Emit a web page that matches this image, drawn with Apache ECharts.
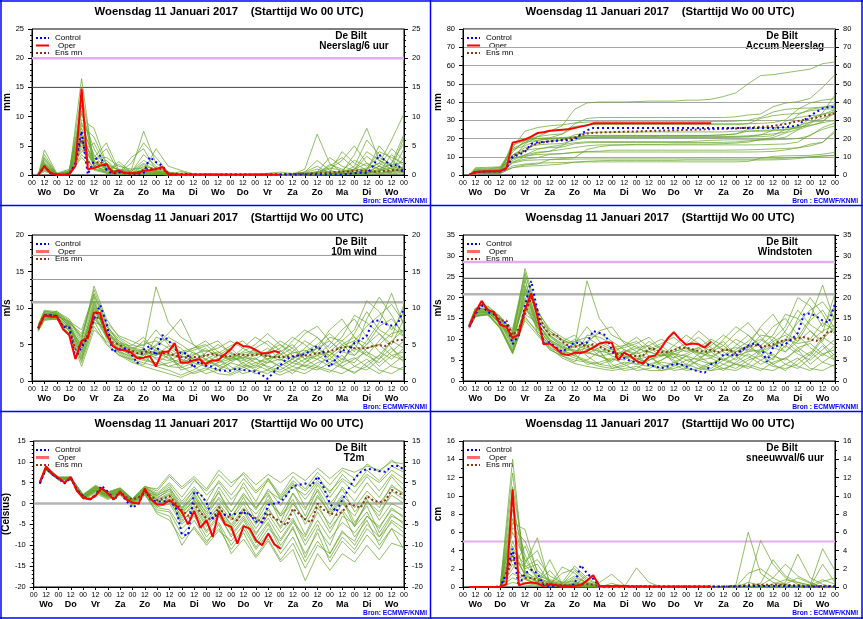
<!DOCTYPE html>
<html><head><meta charset="utf-8">
<script src="https://cdn.jsdelivr.net/npm/echarts@6/dist/echarts.min.js"></script>
<style>html,body{margin:0;padding:0;background:#fff}#c{width:863px;height:619px}</style>
</head><body><div id="c"></div>
<script>
// ---------- time axes ----------
const hours6 = [6,12,18,24,30,36,42,48,54,60,66,72,78,84,90,96,102,108,114,120,126,132,138,144,150,156,162,168,174,180,186,192,198,204,210,216,222,228,234,240,246,252,258,264,270,276,282,288,294,300,306,312,318,324,330,336,342,348,354,360];
const hoursOper = hours6.slice(0, 40);
const hoursM = [6,12,24,36,48,60,72,84,96,108,120,132,144,156,168,180,192,204,216,228,240,252,264,276,288,300,312,324,336,348,360];
const days = ['Wo','Do','Vr','Za','Zo','Ma','Di','Wo','Do','Vr','Za','Zo','Ma','Di','Wo'];

// ---------- Neerslag/6 uur ----------
const precipOper = [0,1.5,0.3,0.1,0,0.1,1.5,14.8,1.0,1.2,1.6,1.9,0.4,0.8,0.3,0.3,0.3,0.7,0.8,1.0,1.4,0.1,
 0.1,0.1,0.1,0.1,0.1,0.1,0.1,0.1,0.1,0.1,0.1,0.1,0.1,0.1,0.1,0.1,0.1,0.1];
const precipControl = [0,1.5,0.3,0.1,0,0.1,2.0,7.5,0.1,2.5,3.3,0.9,0.2,0.5,0.3,0.2,0.2,0.3,3.1,2.2,1.6,0.1,
 0.1,0.1,0.1,0.1,0.1,0.1,0.1,0.1,0.1,0.1,0.1,0.1,0.1,0.1,0.1,0.1,0.1,0.1,0.1,0.1,0.1,0.1,0.1,0.1,0.1,0.1,0.1,0.1,
 0.2,0.3,0.4,0.3,1.5,3.5,2.4,1.5,1.8,0.2];
const precipMean = [0.1,1.5,0.3,0.1,0.1,0.2,1.8,6.5,2.2,2.0,2.3,1.5,0.6,0.6,0.4,0.3,0.4,0.9,1.1,1.1,1.0,0.3,
 0.2,0.2,0.2,0.1,0.1,0.1,0.1,0.1,0.1,0.1,0.1,0.1,0.1,
 0.1,0.1,0.1,0.1,0.1,0.2,0.2,0.2,0.2,0.3,0.3,0.4,0.4,0.5,0.6,
 0.6,0.7,0.8,0.7,0.6,0.6,0.7,0.8,0.9,1.0];
const precipMembers = [
 [0,1.5,0.1,0.2,5.5,2.0,1.0,0.5,0.3,0.8,0.6,0.1,0,0,0.2,0,0,0.1,0,0,0,0.1,0.3,0.5,1.2,0.8,2.5,1.5,3.0,1.8,2.2],
 [0,2.0,0,0.5,8.0,3.5,0.8,0.3,0.2,1.5,1.0,0.2,0,0,0,0,0.1,0,0,0,0,0,0,0.2,0.6,0.4,0.9,3.2,1.5,0.5,4.5],
 [0,1.2,0.1,0.3,12.0,1.5,2.5,0.6,0.4,0.5,0.3,0,0,0.1,0,0,0,0,0,0,0.1,0.2,0.5,1.5,0.3,0.2,0.4,0.8,5.0,2.5,1.0],
 [0,3.0,0.2,0.8,4.0,5.5,1.2,1.0,0.8,7.5,2.0,0.5,0.1,0,0,0,0,0,0,0,0,0.1,1.0,7.0,2.0,0.5,1.0,2.0,1.0,0.3,0.8],
 [0,1.0,0,0.1,16.5,1.0,0.5,0.2,0.1,0.3,0.2,0,0,0,0,0,0,0,0,0,0,0,0,0.1,0.2,0.5,3.5,8.0,2.5,1.0,0.5],
 [0,2.5,0.1,0.4,6.5,2.5,4.5,0.4,0.6,2.5,1.2,0.3,0,0,0,0.1,0,0,0,0,0,0,0.3,0.1,0,0.2,0.5,1.0,2.0,6.0,10.5],
 [0,4.3,0.3,1.0,9.5,8.0,2.0,0.8,0.3,1.0,0.5,0.1,0,0,0,0,0,0,0,0.1,0,0,0.2,0.4,1.5,3.0,1.2,0.5,0.2,0.5,1.5],
 [0,0.8,0,0,3.5,1.2,0.6,2.3,0.5,0.6,4.5,1.5,0.8,0.2,0,0,0,0,0,0,0,0,0,0,0.1,0.2,0.3,1.0,4.0,3.0,2.0],
 [0,1.8,0.1,0.2,7.0,2.0,1.5,0.3,3.0,4.5,0.8,0.2,0,0,0,0,0,0,0,0,0,0.2,0.5,2.5,0.8,0.3,0.1,0.2,0.6,2.0,7.0],
 [0,1.3,0,0.1,5.0,1.8,0.3,0.1,0.1,0.2,0.1,0,0,0,0,0,0,0,0,0,0,0,0,0,0,0.1,0.3,0.5,0.8,1.2,0.6],
 [0,2.2,0.2,0.6,10.5,4.5,1.0,0.6,0.2,0.4,0.3,0,0,0,0,0,0,0,0,0,0,0.1,0.2,0.3,1.0,2.5,5.0,2.0,1.0,0.4,3.0],
 [0,1.6,0.1,0.3,6.0,2.8,3.0,1.5,1.0,1.2,0.5,0.1,0,0,0,0,0,0,0,0.3,0.5,0.2,0.1,0,0,0,0.2,0.6,1.5,4.5,2.5],
 [0,0.6,0,0,4.5,1.0,0.4,0.2,0.1,0.1,0.2,0,0,0,0,0,0,0,0,0,0,0,0,0.2,1.8,1.0,0.3,0.1,0.2,0.6,1.0],
 [0,3.5,0.2,0.5,8.5,6.5,1.8,0.9,0.5,3.5,1.5,0.4,0.1,0,0,0,0,0,0,0,0,0,0,0,0.2,0.4,1.5,6.0,3.5,1.5,0.8],
 [0,1.4,0,0.2,7.5,1.5,0.7,0.3,0.2,0.8,0.4,0.1,0.6,0,0,0,0,0,0,0,0,0,0.1,0.1,0.2,0.3,0.2,0.4,1.0,2.0,5.5],
 [0,2.8,0.1,0.7,11.0,3.0,5.5,0.8,0.6,2.0,0.8,0.2,0,0,0,0,0,0,0,0,0,0,0,0.5,3.0,1.5,0.8,0.4,1.5,0.7,0.3],
 [0,0.9,0,0.1,3.0,0.8,0.3,0.1,0,0.1,0.1,0,0,0,0,0,0,0,0.1,0,0,0,0,0,0,0,0.1,0.3,0.5,0.2,0.4],
 [0,2.0,0.1,0.4,14.0,2.2,1.2,0.4,2.0,5.5,3.0,0.5,0,0,0,0,0,0,0,0,0,0,0.4,1.0,0.5,4.0,2.0,0.8,0.5,3.5,1.5],
 [0,1.1,0,0.2,5.8,1.6,0.8,1.8,0.4,0.6,0.3,0,0,0,0,0,0,0,0,0,0,0,0,0,0.1,0.2,0.8,1.2,2.0,1.0,6.5],
 [0,1.7,0.1,0.3,9.0,2.4,1.0,0.5,0.3,1.8,0.6,0.1,0,0,0,0,0,0,0,0,0,0.1,0.2,0.6,0.4,0.6,1.0,4.0,2.5,1.5,1.2]
];
const precipRefLevels = [15, 20];

// ---------- Accum Neerslag ----------
const accumOper = [0,1.6,1.9,2.0,2.0,2.1,3.6,17.7,18.5,19.5,21.0,23.0,23.4,24.2,24.5,24.8,25.1,25.7,26.5,27.2,28.3,
 28.4,28.4,28.4,28.4,28.4,28.4,28.4,28.4,28.4,28.4,28.4,28.4,28.4,28.4,28.4,28.4,28.4,28.4,28.4];
const accumControl = [0,1.5,1.8,1.9,1.9,2.0,3.5,10.0,11.0,12.8,17.0,17.9,18.1,18.4,18.7,19.0,19.1,19.3,22.4,24.5,25.8,
 25.8,25.8,25.8,25.8,25.8,25.8,25.8,25.8,25.8,25.8,25.8,25.8,25.8,25.8,25.8,25.8,25.8,25.8,25.8,25.8,25.8,25.8,25.8,25.8,25.8,25.8,25.8,25.8,25.8,
 25.9,26.2,26.6,27.2,30.0,32.5,34.5,36.5,37.2,37.2];
const accumMean = [0.1,1.7,1.9,2.0,2.1,2.2,3.6,10.2,12.0,13.5,15.8,17.3,17.9,18.5,18.9,19.3,19.7,20.6,21.7,22.8,
 23.1,23.3,23.4,23.5,23.6,23.7,23.8,23.9,24.0,24.1,24.2,24.3,24.4,24.5,24.6,24.7,24.8,24.9,25.0,25.1,
 25.2,25.3,25.4,25.5,25.7,25.9,26.1,26.3,26.6,26.9,27.4,28.0,28.7,29.5,30.2,30.8,31.5,32.3,33.0,33.8];
const accumMembers = [
 [0,1.5,1.8,2.0,7,10,12,13,14,15,16,16.5,16.5,16.5,16.8,16.8,16.8,17,17,17,17,17.2,17.5,18,19.5,20.5,23,25,29,31,34],
 [0,2.0,2.2,2.8,11,15,16.5,17,17.2,19,20.5,21,21,21,21,21,21.2,21.2,21.2,21.2,21.2,21.2,21.2,21.5,22,22.5,23.5,27,29,29.5,34],
 [0,1.2,1.4,1.8,14,16,19,20,20.5,21,21.5,21.5,21.5,21.6,21.6,21.6,21.6,21.6,21.6,21.6,21.7,22,22.5,24,24.5,24.7,25,26,31,33.5,34.5],
 [0,3.0,3.3,4.0,9,17,21,24,27,36,39.5,40,40,40,40.2,40.5,40.5,40.5,41,41,41.5,43,45,50,54.5,55,56,57,58,61,62],
 [0,1.0,1.0,1.2,18,19.5,20,20.2,20.3,20.6,20.8,20.8,20.8,20.8,20.8,20.8,20.8,20.8,20.8,20.8,20.8,20.8,20.8,20.9,21,21.5,25,33,36,37,37.5],
 [0,2.5,2.7,3.1,10,13,18,18.5,19,22,23,23.5,23.5,23.5,23.5,23.6,23.6,23.6,23.6,23.6,23.6,23.6,24,24,24,24.2,24.7,25.7,28,34,44],
 [0,4.0,4.2,4.5,15,24,26,27,27.5,28.5,29,29.2,29.2,29.2,29.2,29.2,29.2,29.2,29.2,29.3,29.3,29.3,29.5,30,31.5,34.5,36,36.5,36.7,37.2,38.5],
 [0,0.8,0.8,0.9,4,5.5,6,8.5,9,9.5,14,15.5,16.3,16.5,16.5,16.5,16.5,16.5,16.5,16.5,16.5,16.5,16.5,16.5,16.6,16.8,17,18,22,25,27],
 [0,1.8,2.0,2.2,9,11,12.5,13,16,20.5,21.5,21.7,21.7,21.7,21.7,21.7,21.7,21.7,21.7,21.7,21.7,22,22.5,25,25.8,26,26,26.2,27,29,36],
 [0,1.3,1.3,1.4,6.5,8,8.3,8.4,8.5,8.7,8.8,8.8,8.8,8.8,8.8,8.8,8.8,8.8,8.8,8.8,8.8,8.8,8.8,8.8,8.8,8.9,9.2,9.7,10,10.5,10.8],
 [0,2.2,2.4,3.0,13.5,18,19,19.6,19.8,20.2,20.5,20.5,20.5,20.5,20.5,20.5,20.5,20.5,20.5,20.5,20.5,20.6,20.8,21,22,24.5,29.5,31.5,32.5,33,36],
 [0,1.6,1.7,2.0,8,11,14,15.5,16.5,17.7,18.2,18.3,18.3,18.3,18.3,18.3,18.3,18.3,18.3,18.6,19,19.2,19.3,19.3,19.3,19.3,19.5,20,21.5,26,28.5],
 [0,0.6,0.6,0.7,5,6,6.5,6.7,6.8,7,7.2,7.2,7.2,7.2,7.2,7.2,7.2,7.2,7.2,7.2,7.2,7.2,7.2,7.4,9.2,10.2,10.5,10.6,10.8,11.4,12.4],
 [0,3.5,3.7,4.2,12.5,19,21,22,22.5,26,27.5,28,28.1,28.1,28.1,28.1,28.1,28.1,28.1,28.1,28.1,28.1,28.1,28.1,28.3,28.7,30.2,36,39.5,41,41.8],
 [0,1.4,1.4,1.6,9,10.5,11.2,11.5,11.7,12.5,12.9,13,13.6,13.6,13.6,13.6,13.6,13.6,13.6,13.6,13.6,13.6,13.7,13.8,14,14.3,14.5,14.9,15.9,17.9,23.4],
 [0,2.8,2.9,3.6,14.6,17.6,23,24,24.6,26.6,27.4,27.6,27.6,27.6,27.6,27.6,27.6,27.6,27.6,27.6,27.6,27.6,27.6,28.1,31,32.5,33.3,33.7,35.2,36,36.3],
 [0,0.9,0.9,1.0,4,4.8,5.1,5.5,6,7,7.5,7.8,8,8,8,8,8,8,8.2,8.2,8.2,8.2,8.2,8.2,8.2,8.3,8.5,9,9.8,10.3,10.7],
 [0,2.0,2.1,2.5,16.5,18.7,20,20.4,22.4,28,31,31.5,31.5,31.5,31.5,31.5,31.5,31.5,31.5,31.5,31.5,31.5,31.9,32.9,33.4,37.4,39.4,40.2,42,48,55],
 [0,1.1,1.1,1.3,7,8.7,9.5,11.3,11.7,12.3,12.6,12.6,12.6,12.6,12.6,12.6,12.6,12.6,12.6,12.6,12.6,12.6,12.6,12.6,12.7,12.9,13.7,14.9,16.9,17.9,24.4],
 [0,1.7,1.8,2.1,11,13.5,14.5,15,15.3,17.1,17.7,17.8,17.8,17.8,17.8,17.8,17.8,17.8,17.8,17.8,17.8,17.9,18.1,18.7,19.1,19.7,20.7,24.7,27.2,28.7,29.9]
];
const accumRefLevels = [];

// ---------- 10m wind ----------
const windOper = [7.2,9.0,8.8,8.8,7.1,6.3,3.0,5.5,5.9,9.4,9.3,6.5,4.8,4.3,4.2,3.9,3.1,3.2,3.4,2.0,
 4.0,4.0,5.2,2.5,2.5,2.8,3.0,2.3,2.8,2.8,3.6,4.3,5.3,4.8,4.7,4.3,3.8,3.8,4.1,3.9];
const windControl = [7.2,9.0,9.0,8.9,7.4,7.3,3.2,4.6,6.0,8.5,10.4,8.0,4.0,4.3,4.4,3.7,2.4,4.3,4.8,3.5,
 6.3,5.6,4.4,3.8,3.8,1.8,2.7,2.1,2.0,1.5,1.4,1.4,1.7,1.5,1.4,1.3,0.9,0.3,1.2,2.1,
 3.0,3.3,3.5,3.7,4.2,4.8,4.0,1.9,3.0,4.3,4.0,5.2,5.6,6.2,8.2,8.3,7.8,7.6,7.8,10.0];
const windMean = [7.3,9.0,9.0,8.9,7.5,7.5,4.3,5.0,6.3,8.5,8.8,6.5,5.3,5.0,4.5,4.2,3.8,4.0,4.0,3.8,
 3.8,3.8,3.5,3.3,3.2,3.3,3.3,3.5,3.7,3.5,3.4,3.4,3.7,3.6,3.5,3.6,3.6,3.4,3.3,3.3,
 3.3,3.4,3.5,3.5,3.6,3.8,3.9,4.1,4.3,4.6,4.7,4.5,4.5,4.5,4.8,4.9,4.8,5.3,5.6,5.6];
const windMembers = [
 [7.2,9.0,9.2,7.5,4.0,9.5,7.0,5.0,4.5,4.0,3.5,4.2,3.0,2.5,3.5,4.0,3.2,2.8,3.5,4.5,3.0,2.5,3.8,4.5,5.5,4.0,3.5,5.0,6.5,4.5,3.0],
 [7.5,9.3,9.0,8.0,6.5,11.5,6.0,4.5,3.5,3.0,6.0,5.5,4.5,3.0,2.0,1.5,2.5,3.5,4.0,3.0,2.0,3.0,4.5,6.0,4.0,2.5,5.5,7.5,9.0,10.5,8.0],
 [7.0,8.7,8.6,7.0,3.0,8.0,7.5,5.5,4.0,5.5,4.5,3.0,2.0,3.5,4.5,3.0,1.5,2.0,3.0,2.5,4.0,5.0,3.0,2.0,3.5,5.0,6.0,4.0,3.0,5.5,7.0],
 [7.3,9.5,9.4,8.3,5.5,13.0,8.5,6.0,5.0,4.5,12.9,8.0,6.0,5.0,4.0,4.5,5.5,4.5,3.5,4.0,5.5,4.5,3.0,3.5,5.0,7.0,8.5,6.0,4.0,3.0,4.5],
 [6.8,8.4,8.5,6.5,2.0,7.0,5.5,4.0,3.0,2.5,2.0,1.5,0.8,1.5,2.5,3.0,2.0,1.0,1.5,2.5,3.0,2.0,1.5,2.5,3.0,2.0,1.0,2.5,3.5,2.0,1.5],
 [7.6,9.6,9.3,7.8,4.5,10.5,6.5,5.0,4.0,3.5,5.0,6.5,8.5,5.0,3.5,2.5,3.0,4.0,5.0,6.5,5.0,3.5,2.5,4.0,6.0,5.5,4.0,8.5,11.5,9.0,6.0],
 [7.1,8.9,8.8,7.2,5.0,9.0,6.2,4.2,3.2,4.5,3.0,2.0,2.5,4.0,3.0,2.0,1.0,1.8,2.5,2.0,1.5,2.5,3.5,3.0,2.0,3.0,4.5,3.5,2.5,4.0,5.5],
 [7.4,9.1,8.9,8.2,7.0,12.0,7.8,5.2,4.8,6.0,4.0,3.5,4.0,3.0,2.5,3.5,4.5,3.0,2.0,3.5,4.5,6.0,5.0,3.5,4.0,5.5,7.0,11.0,9.5,7.0,9.5],
 [6.9,8.6,8.7,6.8,3.5,8.5,6.8,4.8,3.8,3.0,2.5,3.5,2.0,1.0,1.5,2.5,3.5,2.5,1.5,1.0,2.0,3.0,2.0,1.5,2.5,3.5,2.0,1.5,3.0,4.5,2.5],
 [7.3,9.2,9.1,7.6,4.8,10.0,6.6,4.6,4.2,3.8,3.2,2.8,3.5,4.5,5.5,4.0,3.0,3.8,4.2,3.5,2.8,4.0,5.5,4.5,3.0,4.5,5.0,3.5,5.5,7.5,6.0],
 [7.0,9.0,9.6,8.0,6.0,11.0,5.8,3.8,2.8,2.2,4.5,3.8,1.5,2.0,3.0,2.2,1.5,2.5,3.2,1.8,1.2,2.0,3.0,4.5,3.5,2.0,3.0,4.0,2.0,3.5,4.0],
 [7.5,9.4,9.0,7.3,3.8,9.8,7.2,5.5,4.5,5.0,5.5,4.5,3.5,2.8,3.8,5.0,4.0,3.0,4.5,5.5,4.2,3.0,4.0,5.0,6.5,5.0,3.5,5.5,8.0,12.0,7.5],
 [7.2,8.8,8.4,6.9,2.5,7.5,5.0,3.5,3.0,3.5,2.0,2.5,3.0,2.0,1.0,1.5,2.5,2.0,1.0,1.5,2.5,1.5,1.0,2.0,1.5,1.0,2.0,3.0,1.5,1.0,2.0],
 [7.7,9.7,9.5,8.5,5.8,12.5,8.0,6.2,5.5,4.8,7.0,5.0,4.0,4.5,5.0,3.5,3.0,4.5,6.0,5.0,3.5,5.5,7.0,6.0,4.5,6.0,9.0,8.0,6.5,5.0,8.5],
 [7.0,8.5,8.7,7.4,4.2,8.8,6.0,4.4,3.6,3.2,3.8,3.2,2.5,3.2,2.8,2.0,2.8,3.5,2.5,3.0,3.8,2.5,2.0,3.0,4.0,3.0,2.5,4.5,5.0,3.5,2.8],
 [7.4,9.3,9.2,7.9,5.2,10.8,7.0,5.2,4.3,4.0,4.8,6.0,5.0,3.8,3.0,3.8,4.8,5.5,4.0,3.0,3.5,4.5,6.5,7.5,5.5,4.0,6.5,9.5,7.0,6.0,10.5],
 [7.1,8.8,9.0,7.7,3.2,9.2,6.4,4.0,3.4,2.8,2.5,2.0,1.8,2.5,2.0,3.0,3.8,2.2,1.8,2.8,2.0,1.0,2.5,3.5,2.5,1.8,1.2,2.0,3.5,5.5,4.5],
 [7.6,9.5,9.3,8.1,6.2,11.8,7.5,5.8,4.6,4.2,3.5,4.8,3.8,4.2,4.8,5.5,3.8,3.2,3.0,4.0,5.0,4.0,3.5,4.5,7.0,8.5,6.0,5.0,7.5,8.5,6.5],
 [6.9,8.3,8.5,6.2,2.8,8.2,5.2,3.6,2.6,2.0,1.5,1.0,0.5,1.2,1.8,1.0,0.8,1.5,2.2,1.5,0.8,1.5,2.2,1.8,1.2,2.5,3.2,2.0,1.0,2.2,3.5],
 [7.3,9.1,9.2,7.5,4.5,10.2,6.9,4.9,3.9,3.6,4.2,3.6,3.2,3.6,4.2,3.6,2.8,3.2,3.8,3.4,3.2,3.8,4.2,3.8,3.5,4.8,5.5,4.5,5.0,6.5,7.0]
];
const windRefLevels = [10.8, 13.9, 17.2];

// ---------- Windstoten ----------
const gustOper = [13.0,16.5,19.2,17.0,16.5,13.5,13.0,10.3,11.2,17.0,21.0,15.5,8.8,9.0,7.8,6.5,6.2,6.8,6.7,7.2,
 8.0,9.0,9.3,9.2,5.0,6.8,6.0,4.8,4.2,5.8,6.1,8.0,10.2,11.7,10.0,8.7,9.0,8.8,8.0,9.4];
const gustControl = [13.0,16.0,18.2,16.5,16.0,14.0,14.0,8.8,11.0,18.0,24.0,17.0,9.0,9.3,8.0,7.0,8.0,9.3,9.0,9.2,
 12.0,11.5,11.0,7.5,5.2,5.5,4.8,4.5,4.3,3.8,3.5,3.1,3.5,4.0,4.1,3.5,2.7,2.3,2.0,4.0,
 4.5,6.3,6.3,6.0,7.5,8.5,9.0,8.5,4.6,8.0,8.6,8.8,10.0,11.5,16.0,16.2,15.5,14.5,14.0,18.5];
const gustMean = [13.2,16.5,18.7,17.0,16.5,14.5,14.5,11.0,12.5,16.0,20.0,17.0,13.0,11.0,11.2,9.5,8.4,8.2,8.8,8.2,
 8.8,8.3,7.5,6.8,6.5,6.5,6.2,6.0,6.0,7.8,7.6,6.9,7.0,7.4,8.0,8.0,7.6,7.2,7.0,7.5,
 6.8,7.5,7.5,6.7,7.3,8.2,8.6,8.4,8.3,8.8,9.5,9.8,10.0,10.3,10.5,10.0,9.6,10.5,12.0,11.5];
const gustMembers = [
 [13.0,16.0,16.5,14.0,9.0,21.0,14.0,10.0,8.0,7.5,6.5,8.0,6.0,5.0,7.0,8.5,6.5,5.5,6.5,8.0,6.0,5.0,7.0,8.5,10.0,8.0,7.0,9.5,12.0,9.0,6.0],
 [13.5,16.8,16.8,14.8,11.0,24.5,13.0,9.0,7.0,6.0,11.0,10.5,9.0,6.0,4.0,3.5,5.0,7.0,8.0,6.0,4.0,6.0,8.5,11.0,8.0,5.0,10.0,14.0,17.0,19.0,15.0],
 [12.8,15.6,16.0,13.0,7.0,17.0,15.0,11.0,8.0,10.0,8.5,6.0,4.5,7.0,8.5,6.0,3.5,4.0,6.0,5.0,7.5,9.5,6.0,4.0,7.0,9.5,11.0,8.0,6.0,10.0,13.0],
 [13.2,17.2,17.5,15.2,10.0,27.0,17.0,12.0,10.0,8.5,24.0,15.0,11.0,9.5,8.0,8.5,10.0,8.5,7.0,8.0,10.0,8.5,6.0,7.0,9.5,13.0,15.0,11.0,8.0,6.0,8.5],
 [12.6,15.4,16.2,12.5,6.5,15.0,12.0,8.5,6.0,5.0,4.5,3.5,3.0,3.5,5.0,6.0,4.0,2.5,3.0,5.0,5.5,4.0,3.0,5.0,6.0,4.0,2.5,5.0,7.0,4.5,3.5],
 [13.6,17.4,17.0,14.5,9.5,22.0,13.5,10.5,8.5,7.0,9.0,12.0,13.0,9.0,7.0,5.0,6.0,7.5,9.0,12.0,9.5,7.0,5.0,7.5,11.0,10.5,8.0,15.0,20.0,16.0,11.0],
 [13.1,16.2,16.6,13.6,10.5,19.0,12.5,8.0,6.5,8.5,6.0,4.0,5.0,7.5,6.0,4.0,2.5,3.5,5.0,4.0,3.0,5.0,6.5,6.0,4.0,5.5,8.5,6.5,5.0,7.5,10.0],
 [13.4,16.6,16.4,15.0,12.5,26.0,16.0,11.5,9.5,11.0,8.0,7.0,7.5,6.0,5.0,7.0,8.5,6.0,4.0,6.5,8.5,11.0,9.0,7.0,7.5,10.0,13.0,20.0,18.0,13.0,18.0],
 [12.7,15.8,16.0,12.8,7.5,16.0,14.0,9.5,7.5,6.0,5.0,7.0,4.0,2.5,3.0,5.0,6.5,5.0,3.0,2.5,4.0,5.5,4.0,3.0,5.0,6.5,4.0,3.0,5.5,8.5,5.0],
 [13.2,16.4,16.7,14.2,9.8,20.0,13.8,9.8,8.2,7.2,6.8,6.0,6.5,8.5,10.5,8.0,6.0,7.0,8.0,7.0,5.5,7.5,10.0,8.5,6.0,8.5,9.5,7.0,10.0,14.0,12.0],
 [12.9,16.9,17.8,15.4,11.5,23.0,11.5,7.5,6.0,4.5,9.0,7.5,3.0,4.0,5.5,4.0,3.0,4.5,6.0,3.5,2.5,4.0,5.5,8.5,6.5,4.0,5.5,7.5,4.0,6.5,7.5],
 [13.5,17.0,16.5,14.0,8.5,21.5,14.5,11.0,9.0,9.5,10.5,8.5,7.0,5.5,7.0,9.5,7.5,5.5,8.5,10.5,8.0,6.0,7.5,9.5,12.5,9.5,7.0,10.5,15.0,23.0,14.0],
 [12.8,15.5,15.8,12.7,6.8,14.5,11.0,7.5,6.0,6.5,4.0,4.5,5.5,4.0,2.5,3.0,4.5,4.0,2.5,3.0,4.5,3.0,2.5,4.0,3.0,2.5,4.0,5.5,3.0,2.5,4.0],
 [13.7,17.5,18.0,15.5,11.8,25.5,16.5,12.5,10.5,9.0,13.0,9.5,8.0,8.5,9.5,7.0,6.0,8.5,11.0,9.0,7.0,10.0,13.0,11.0,8.5,11.0,16.0,15.0,12.0,9.5,16.0],
 [12.9,15.9,16.3,13.8,8.0,17.5,12.8,9.0,7.2,6.4,7.0,6.0,5.0,6.0,5.5,4.0,5.0,6.5,5.0,5.5,7.0,5.0,4.0,5.5,7.5,6.0,5.0,8.0,9.0,6.5,5.0],
 [13.3,16.7,17.2,14.6,10.2,22.5,14.8,10.8,8.8,8.0,9.5,11.5,9.5,7.5,6.5,7.5,9.0,10.5,8.0,6.5,7.0,8.5,11.5,14.0,10.5,8.0,12.0,17.0,13.5,11.5,21.0],
 [13.0,15.7,16.1,13.3,7.2,18.0,13.0,8.8,6.8,5.5,4.8,4.0,3.5,4.5,4.0,5.5,7.0,4.5,3.5,5.0,4.0,2.5,4.5,6.5,5.0,3.5,3.0,4.0,6.5,10.5,8.5],
 [13.6,17.3,16.9,15.0,12.0,24.0,15.5,12.0,9.8,8.8,7.5,9.0,7.5,8.0,9.0,10.5,7.5,6.5,6.0,7.5,9.5,7.5,7.0,8.5,13.0,16.0,11.5,9.5,14.5,17.0,12.5],
 [12.6,15.6,15.9,12.6,6.6,15.5,11.5,8.0,5.5,4.2,3.5,3.0,2.5,3.0,3.5,2.5,2.5,3.0,4.0,3.0,2.5,3.0,4.0,3.5,2.5,4.5,5.5,3.5,2.5,4.5,6.5],
 [13.2,16.5,16.6,14.1,9.2,19.5,13.2,9.6,7.8,7.0,8.0,7.2,6.5,7.0,7.8,7.0,6.0,6.5,7.5,6.8,6.0,7.2,8.0,7.5,7.0,8.5,10.0,9.0,9.5,12.0,13.5]
];
const gustRefLevels = [20.8, 24.6, 28.5];

// ---------- T2m ----------
const t2mOper = [5.2,8.9,7.2,6.2,5.0,6.4,3.0,1.4,1.0,1.8,3.8,2.4,1.0,2.8,1.0,0.2,0.0,3.6,1.0,-0.2,
 -0.2,0.8,-0.4,-2.0,-5.0,-1.8,-5.8,-4.0,-8.0,-1.8,-5.0,-5.6,-9.6,-5.4,-6.0,-8.8,-10.0,-7.2,-9.8,-10.8];
const t2mControl = [4.8,8.5,7.0,6.0,4.8,6.2,3.2,1.8,0.8,2.0,4.3,2.8,0.8,2.8,0.6,-1.0,0.0,3.2,0.8,0.5,
 0.5,0.6,-0.8,-7.4,-7.6,2.8,2.3,0.2,-3.6,-2.4,-2.7,-2.6,-2.4,-2.2,-2.6,-4.3,-4.5,-0.3,0.0,0.4,
 2.0,4.2,4.5,4.8,4.2,6.5,3.8,0.0,-2.0,0.9,3.5,6.0,7.6,8.3,8.2,7.8,7.6,9.0,9.0,8.2];
const t2mMean = [5.0,8.6,7.0,6.0,5.0,6.3,3.3,1.8,1.2,2.0,3.5,2.8,1.3,2.9,1.5,1.0,1.5,2.8,1.8,0.8,
 1.2,1.8,0.0,-1.5,-3.0,0.0,-2.2,-3.5,-3.8,-0.8,-2.8,-3.5,-4.0,-1.5,-2.8,-3.5,-4.6,-2.2,-3.5,-4.3,
 -5.2,-1.2,-2.5,-3.8,-4.5,0.0,-1.5,-2.3,-2.7,-2.0,0.0,-0.5,-1.0,1.8,0.8,0.3,0.8,3.3,2.5,2.0];
const t2mMembers = [
 [5.0,8.5,6.0,6.0,1.5,3.5,2.0,3.0,0.5,3.0,1.0,2.5,-1.0,1.5,-2.0,1.0,-3.0,0.5,-2.5,1.0,-3.0,0.0,-4.0,1.5,-2.0,2.0,-1.0,3.0,0.0,4.0,2.5],
 [5.2,8.8,6.3,6.2,2.0,4.0,2.5,3.5,1.0,4.0,2.5,5.0,1.5,5.5,3.0,7.0,4.0,7.5,4.5,7.0,5.0,7.5,5.5,8.5,6.0,8.5,7.5,9.0,8.0,10.0,9.5],
 [4.8,8.2,5.8,5.8,1.2,3.0,1.5,2.5,0.0,2.5,-1.0,-1.5,-6.0,-3.0,-8.0,-4.5,-10.0,-6.0,-11.0,-7.0,-12.0,-8.0,-14.0,-9.0,-13.0,-8.0,-11.0,-6.0,-9.0,-4.0,-6.0],
 [5.1,8.6,6.1,6.1,1.8,3.8,2.2,3.2,0.8,3.5,0.5,1.0,-3.0,-0.5,-5.0,-1.5,-6.0,-2.0,-7.0,-3.5,-8.5,-4.0,-10.0,-5.0,-12.0,-7.0,-9.0,-3.0,-6.0,-1.0,-3.5],
 [4.9,8.4,5.9,5.9,1.4,3.2,1.8,2.8,0.2,2.8,2.0,3.5,0.0,3.0,-1.0,2.5,-2.0,2.0,-1.0,3.0,1.0,4.0,2.0,5.5,3.0,6.0,4.0,7.0,5.0,8.0,6.0],
 [5.3,9.0,6.4,6.4,2.2,4.4,2.8,3.8,1.2,4.2,3.0,6.5,3.5,6.0,2.0,5.0,1.0,4.0,-1.0,2.5,-3.0,1.0,-5.0,0.0,-6.0,-2.0,-8.0,-4.0,-10.0,-6.0,-11.0],
 [5.0,8.6,6.0,6.0,1.6,3.6,2.0,3.0,0.4,3.2,0.0,0.5,-4.0,-1.5,-6.5,-2.5,-8.0,-4.0,-9.5,-5.0,-11.0,-5.5,-13.0,-6.0,-10.0,-3.0,-5.0,0.5,-2.0,2.0,0.0],
 [4.7,8.0,5.6,5.6,1.0,2.5,1.0,2.0,-0.5,2.0,-2.0,-3.0,-10.0,-5.5,-9.5,-5.0,-12.0,-8.5,-13.0,-9.0,-14.0,-11.0,-18.5,-12.0,-16.0,-12.0,-14.0,-10.0,-13.5,-9.5,-10.5],
 [5.2,8.7,6.2,6.3,1.9,3.9,2.4,3.4,0.9,3.8,1.5,3.0,-2.0,2.0,-3.5,0.0,-4.0,0.0,-5.0,-1.0,-6.0,-1.5,-7.5,-1.0,-5.0,0.0,-3.0,2.0,-1.0,4.5,2.0],
 [5.0,8.5,6.0,5.9,1.5,3.4,1.9,2.9,0.3,2.9,-0.5,1.5,-3.5,0.5,-4.5,-0.5,-5.5,-1.5,-6.0,-1.5,-5.5,0.0,-4.0,2.0,-2.5,1.5,-4.5,-0.5,-7.0,-2.5,-5.0],
 [5.1,8.7,6.2,6.2,2.1,4.2,2.6,3.6,1.1,4.0,3.5,7.0,4.0,6.5,3.5,8.0,5.0,7.0,3.0,6.0,2.0,6.5,3.5,7.5,4.5,8.0,6.0,9.5,7.5,10.5,8.0],
 [4.8,8.1,5.7,5.7,1.1,2.8,1.2,2.2,-0.3,2.2,-1.5,-2.0,-7.5,-4.0,-9.0,-6.0,-11.0,-7.0,-12.5,-8.5,-13.5,-9.5,-15.5,-10.0,-12.0,-6.5,-10.0,-5.0,-8.0,-3.0,-4.5],
 [5.0,8.4,6.0,6.0,1.5,3.3,1.8,2.9,0.5,3.0,0.2,2.0,-2.5,1.0,-3.0,1.5,-2.0,2.5,-1.5,3.5,-0.5,4.5,1.0,5.0,1.5,5.5,2.5,6.5,3.0,7.0,4.5],
 [5.2,8.9,6.3,6.3,2.0,4.1,2.7,3.7,1.0,4.1,1.8,4.0,-1.0,3.5,-1.5,4.0,-0.5,5.0,0.5,6.0,1.0,5.0,-1.0,3.0,-3.0,1.0,-5.5,-2.0,-8.0,-4.5,-7.0],
 [4.9,8.3,5.8,5.8,1.3,3.1,1.6,2.6,0.1,2.6,-0.8,0.0,-5.0,-2.0,-7.0,-3.0,-7.5,-3.5,-8.5,-4.5,-10.0,-6.0,-12.0,-7.0,-14.0,-9.0,-12.0,-7.5,-11.0,-6.0,-8.0],
 [5.1,8.6,6.1,6.1,1.7,3.7,2.3,3.3,0.7,3.6,1.2,3.5,-1.5,2.5,-2.5,3.0,-3.5,1.5,-4.0,2.0,-4.5,2.5,-3.0,3.5,-1.5,4.0,0.5,5.0,1.5,6.5,3.0],
 [5.0,8.5,6.0,6.0,1.6,3.5,2.0,3.1,0.6,3.4,0.8,2.2,-2.2,0.8,-4.0,-1.0,-5.0,-1.0,-4.5,0.5,-2.5,2.5,-1.5,4.5,0.0,3.5,-2.0,1.0,-4.0,0.0,-1.5],
 [4.8,8.2,5.8,5.7,1.2,2.9,1.4,2.4,-0.2,2.4,-2.5,-4.0,-8.5,-6.0,-10.0,-6.5,-9.0,-5.0,-10.5,-6.0,-9.0,-4.5,-8.0,-2.0,-7.0,-1.5,-5.5,0.5,-3.0,3.0,1.0],
 [5.2,8.8,6.2,6.2,2.0,4.0,2.5,3.5,0.8,3.7,2.2,4.5,0.5,4.0,0.5,5.5,2.0,6.0,2.5,5.5,1.5,5.5,3.0,6.5,2.5,7.0,4.0,8.0,5.5,9.0,7.5],
 [5.0,8.4,5.9,6.0,1.5,3.3,1.7,2.8,0.3,2.8,-0.3,1.0,-4.5,-1.0,-5.5,-2.0,-6.5,-3.0,-7.5,-2.5,-7.0,-3.5,-9.0,-4.0,-8.5,-4.5,-7.0,-3.0,-5.5,-1.5,-3.0]
];
const t2mRefLevels = [0];

// ---------- sneeuwval/6 uur ----------
const snowOper = [0,0,0,0,0,0,0.3,10.7,0.2,0.4,0.5,0.4,0.1,0.3,0.2,0.1,0.1,0.1,0.2,0.7,1.3,0.1,0.1,0.1,0.15,0.1,
 0.05,0.05,0.05,0.05,0.05,0.05,0.05,0.05,0.05,0.05,0.05,0.05,0.05,0.05];
const snowControl = [0,0,0,0,0,0,1.5,4.2,0.1,1.5,1.9,1.5,0.2,0.1,0.1,0.1,0.1,0.3,2.4,1.5,0.9,0.05,
 0.05,0.05,0.05,0.05,0.05,0.05,0.05,0.05,0.05,0.05,0.05,0.05,0.05,0.05,0.05,0.05,0.05,0.05,0.05,0.05,0.05,0.05,
 0.1,0.1,0.1,0.1,0.1,0.1,0.1,0.1,0.1,0.1,0.05,0.05,0.05,0.05,0.05,0.05];
const snowMean = [0,0,0,0,0,0.1,1.0,3.4,1.5,1.0,1.0,0.8,0.4,0.3,0.25,0.2,0.15,0.2,0.3,0.3,0.25,0.1,
 0.1,0.1,0.1,0.1,0.1,0.1,0.1,0.1,0.05,0.05,0.05,0.05,0.05,0.05,0.05,0.05,0.05,0.05,0.05,0.05,
 0.1,0.1,0.15,0.2,0.25,0.25,0.25,0.25,0.25,0.25,0.2,0.2,0.15,0.15,0.1,0.1,0.1,0.1];
const snowMembers = [
 [0,0,0,0,3.5,1.5,0.5,0.2,0,0.3,0,0,0,0,0,0,0,0,0,0,0,0,0,0.5,0.2,0,0.3,1.0,0.4,0,0],
 [0,0,0,0,6.0,3.0,1.0,0.5,0.2,0.5,0.3,0,0,0,0,0,0,0,0,0,0,0,0,0,0,0,0,0,0,0,0],
 [0,0,0,0,9.5,2.0,2.5,0.4,0.3,0.2,0,0,0,0,0,0,0,0,0,0,0,0,0.2,6.0,1.5,0.5,0.2,0,0,0,0],
 [0,0,0,0,2.0,4.5,1.2,0.8,0.5,2.3,1.0,0.2,0,0,0,0,0,0,0,0,0,0,0,0,0,0,0,0.2,0.1,0,0],
 [0,0,0,0,14.0,1.0,0.3,0.1,0,0,0,0,0,0,0,0,0,0,0,0,0,0,0,0,0,0,0,0,0,0,0],
 [0,0,0,0,4.0,2.5,5.4,0.3,0.2,1.0,0.5,0.1,0,0,0,0,0,0,0,0,0,0,0,0,0,0.3,0.8,0.5,0.2,4.2,1.8],
 [0,0,0,0,7.0,6.3,1.5,0.6,0.1,0.4,0.1,0,0,0,0,0,0,0,0,0,0,0,0,0.2,5.1,2.5,1.0,0.3,0,0,0],
 [0,0,0,0,1.5,0.8,0.4,3.0,0.3,0.2,1.3,0.5,1.4,0.2,0,0,0,0,0,0,0,0,0,0,0,0,0,0,0,0,0],
 [0,0,0,0,5.0,1.8,0.6,0.2,2.2,1.5,0.4,0,0,0,0,0,0,0,0,0,0,0,0,0,0.4,3.0,1.2,0.5,0.2,0.8,0.3],
 [0,0,0,0,2.5,0.9,0.2,0.1,0,0,0,0,0,0,0,0,0,0,0,0,0,0,0,0,0,0,0,0,0,0,0],
 [0,0,0,0,8.5,3.5,0.8,0.4,0.1,0.3,0.1,0,0,0,2.1,0.5,0,0,0,0,0,0,0,0,0,0,0.5,3.6,1.0,0.3,0],
 [0,0,0,0,3.0,2.2,3.0,1.2,0.5,0.6,0.2,0,0,0,0,0,0,0,0,0,0,0,0,0,0,0,0,0,0,0,0],
 [0,0,0,0,1.0,0.4,0.2,0,0,0,0,0,0,0,0,0,0,0,0,0,0,0,0,0,0,0,0,0,0,0,0],
 [0,0,0,0,6.5,5.0,1.8,0.7,0.3,1.8,0.6,0.1,0,0,0,0,0,0,0,0,0,0,0,0,0,0,0,0,0,0,0],
 [0,0,0,0,4.5,1.2,0.5,0.2,0.1,0.4,0.2,0,0.4,0,0,0,0,0,0,0,0,0,0,0,0,0,0,0,0,0.6,1.0],
 [0,0,0,0,11.0,2.8,4.0,0.6,0.4,1.2,0.4,0.1,0,0,0,0,0,0,0,0,0,0,0,1.5,2.0,1.0,0.3,0,0,0,0],
 [0,0,0,0,0.5,0.2,0.1,0,0,0,0,0,0,0,0,0,0,0,0,0,0,0,0,0,0,0,0,0,0,0,0],
 [0,0,0,0,12.5,1.6,0.9,0.3,1.5,2.0,0.8,0.2,0,0,0,0,0,0,0,0,0,0,0,0,0,0,0,0,0,2.5,0.5],
 [0,0,0,0,3.8,1.3,0.6,1.8,0.3,0.2,0.1,0,0,0,0,0,0,0,0,0,0,0,0,0,0,0,0,0,0,0,0],
 [0,0,0,0,7.5,2.4,1.0,0.5,0.2,0.8,0.3,0,0,0,0,0,0,0,0,0,0,0,0,0,0.2,1.0,2.5,1.2,0.5,0,0]
];
const snowRefLevels = [5];

// ---------- texts ----------
const titleText = 'Woensdag 11 Januari 2017    (Starttijd Wo 00 UTC)';
const station = 'De Bilt';

// ---------- panel setup (styles & layout) ----------
const VIOLET = '#e3aef0', GREYTHICK = '#b4b4b4', GREY = '#9a9a9a', DARK = '#444';
const panels = [
 {label:'Neerslag/6 uur', unit:'mm', min:0, max:25, interval:5, minor:5, members:precipMembers, oper:precipOper, control:precipControl, mean:precipMean,
  refs:precipRefLevels, refStyles:[{c:DARK,w:1},{c:VIOLET,w:2.5}], bron:'Bron: ECMWF/KNMI', operLeg:{c:'#ff0000',w:2}},
 {label:'Accum Neerslag', unit:'mm', min:0, max:80, interval:10, minor:2, members:accumMembers, oper:accumOper, control:accumControl, mean:accumMean,
  refs:accumRefLevels, refStyles:[], grid:true, bron:'Bron : ECMWF/KNMI', operLeg:{c:'#ff0000',w:2}},
 {label:'10m wind', unit:'m/s', min:0, max:20, interval:5, minor:5, members:windMembers, oper:windOper, control:windControl, mean:windMean,
  refs:windRefLevels, refStyles:[{c:GREYTHICK,w:2.5},{c:GREY,w:1},{c:GREY,w:1}], bron:'Bron: ECMWF/KNMI', operLeg:{c:'#ff6a6a',w:3}},
 {label:'Windstoten', unit:'m/s', min:0, max:35, interval:5, minor:5, members:gustMembers, oper:gustOper, control:gustControl, mean:gustMean,
  refs:gustRefLevels, refStyles:[{c:GREYTHICK,w:2.5},{c:'#666',w:1.2},{c:VIOLET,w:2.5}], bron:'Bron : ECMWF/KNMI', operLeg:{c:'#ff6a6a',w:3}},
 {label:'T2m', unit:'(Celsius)', min:-20, max:15, interval:5, minor:5, members:t2mMembers, oper:t2mOper, control:t2mControl, mean:t2mMean,
  refs:t2mRefLevels, refStyles:[{c:GREYTHICK,w:2.5}], bron:'Bron: ECMWF/KNMI', operLeg:{c:'#ff6a6a',w:3}},
 {label:'sneeuwval/6 uur', unit:'cm', min:0, max:16, interval:2, minor:2, members:snowMembers, oper:snowOper, control:snowControl, mean:snowMean,
  refs:snowRefLevels, refStyles:[{c:VIOLET,w:2}], bron:'Bron : ECMWF/KNMI', operLeg:{c:'#ff6a6a',w:3}}
];

const FONT = "'Liberation Sans', Arial, Helvetica, sans-serif";
const MEMBER_COLOR = 'rgba(104,166,44,0.72)';
const pts = (hs, vs) => hs.map((h, j) => [h, vs[j]]).filter(p => p[1] !== undefined);

const grids = [], xAxes = [], yAxes = [], series = [], graphics = [];

panels.forEach((p, i) => {
  const col = i % 2, row = Math.floor(i / 2);
  const px = col * 431, py = row * 206;
  grids.push({left: px + 32, top: py + 29, width: 372, height: 146, show: true, borderColor: '#000', borderWidth: 1, backgroundColor: 'transparent'});
  xAxes.push({type: 'value', gridIndex: i, min: 0, max: 360, interval: 12,
    axisLine: {show: true, onZero: false, lineStyle: {color: '#000', width: 1}},
    axisTick: {show: true, inside: false, length: 3, lineStyle: {color: '#000'}},
    axisLabel: {fontSize: 7, color: '#000', margin: 5, fontFamily: FONT, showMinLabel: true, showMaxLabel: true,
      formatter: v => (v % 24 === 0 ? '00' : '12')},
    splitLine: {show: false}});
  xAxes.push({type: 'category', gridIndex: i, data: days, position: 'bottom', boundaryGap: true,
    axisLine: {show: false}, axisTick: {show: false}, splitLine: {show: false},
    axisLabel: {fontSize: 9, fontWeight: 'bold', color: '#000', margin: 13.5, fontFamily: FONT, interval: 0}});
  const yb = {type: 'value', gridIndex: i, min: p.min, max: p.max, interval: p.interval,
    axisLine: {show: true, onZero: false, lineStyle: {color: '#000', width: 1}},
    axisTick: {show: true, inside: false, length: 4, lineStyle: {color: '#000'}},
    minorTick: {show: true, splitNumber: p.minor, length: 2, lineStyle: {color: '#000'}},
    axisLabel: {fontSize: 7.5, color: '#000', margin: 8, fontFamily: FONT},
    splitLine: {show: false}};
  yAxes.push(Object.assign({}, yb, {position: 'left', name: p.unit, nameLocation: 'middle', nameGap: 18, nameRotate: 90,
    nameTextStyle: {fontSize: 10, fontWeight: 'bold', color: '#000', fontFamily: FONT},
    splitLine: {show: !!p.grid, lineStyle: {color: '#a6a6a6', width: 1}}}));
  yAxes.push(Object.assign({}, yb, {position: 'right'}));

  const xi = 2 * i, yi = 2 * i;
  p.refs.forEach((lev, k) => {
    series.push({type: 'line', xAxisIndex: xi, yAxisIndex: yi, data: [[0, lev], [360, lev]], symbol: 'none', silent: true,
      lineStyle: {color: p.refStyles[k].c, width: p.refStyles[k].w}, z: 1});
  });
  p.members.forEach(m => {
    series.push({type: 'line', xAxisIndex: xi, yAxisIndex: yi, data: pts(hoursM, m), symbol: 'none', silent: true,
      lineStyle: {color: MEMBER_COLOR, width: 1}, z: 2});
  });
  series.push({type: 'line', xAxisIndex: xi, yAxisIndex: yi, data: pts(hours6, p.mean), symbol: 'none', silent: true,
    lineStyle: {color: '#8b3418', width: 2, type: [2, 2.5]}, z: 3});
  series.push({type: 'line', xAxisIndex: xi, yAxisIndex: yi, data: pts(hours6, p.control), symbol: 'none', silent: true,
    lineStyle: {color: '#0000ff', width: 2, type: [2, 3]}, z: 4});
  series.push({type: 'line', xAxisIndex: xi, yAxisIndex: yi, data: pts(hoursOper, p.oper), symbol: 'none', silent: true,
    lineStyle: {color: '#ff0000', width: 2}, z: 5});

  graphics.push({type: 'text', x: px + 229, y: py + 12, style: {text: titleText, font: 'bold 11.3px ' + FONT, fill: '#000', align: 'center', verticalAlign: 'middle'}});
  graphics.push({type: 'text', x: px + 351, y: py + 36, style: {text: station, font: 'bold 10px ' + FONT, fill: '#000', align: 'center', verticalAlign: 'middle'}});
  graphics.push({type: 'text', x: px + 354, y: py + 46, style: {text: p.label, font: 'bold 10px ' + FONT, fill: '#000', align: 'center', verticalAlign: 'middle'}});
  graphics.push({type: 'line', shape: {x1: px + 36, y1: py + 38, x2: px + 49, y2: py + 38}, style: {stroke: '#0000ff', lineWidth: 2, lineDash: [2, 2]}});
  graphics.push({type: 'text', x: px + 55, y: py + 38, style: {text: 'Control', font: '8px ' + FONT, fill: '#000', align: 'left', verticalAlign: 'middle'}});
  graphics.push({type: 'line', shape: {x1: px + 36, y1: py + 45.5, x2: px + 49, y2: py + 45.5}, style: {stroke: p.operLeg.c, lineWidth: p.operLeg.w}});
  graphics.push({type: 'text', x: px + 58, y: py + 45.5, style: {text: 'Oper', font: '8px ' + FONT, fill: '#000', align: 'left', verticalAlign: 'middle'}});
  graphics.push({type: 'line', shape: {x1: px + 36, y1: py + 53, x2: px + 49, y2: py + 53}, style: {stroke: '#8b3418', lineWidth: 2, lineDash: [2, 2]}});
  graphics.push({type: 'text', x: px + 55, y: py + 53, style: {text: 'Ens mn', font: '8px ' + FONT, fill: '#000', align: 'left', verticalAlign: 'middle'}});
  graphics.push({type: 'text', x: px + 427, y: py + 201.5, style: {text: p.bron, font: 'bold 6.7px ' + FONT, fill: '#0000ff', align: 'right', verticalAlign: 'middle'}});
});

[1, 205.5, 411.5, 618].forEach(y => graphics.push({type: 'line', shape: {x1: 0, y1: y, x2: 863, y2: y}, style: {stroke: '#0000ff', lineWidth: 1.5}, z: 100}));
[1, 430.5, 862].forEach(x => graphics.push({type: 'line', shape: {x1: x, y1: 0, x2: x, y2: 619}, style: {stroke: '#0000ff', lineWidth: 1.5}, z: 100}));

const chart = echarts.init(document.getElementById('c'));
chart.setOption({
  animation: false,
  backgroundColor: '#fff',
  grid: grids, xAxis: xAxes, yAxis: yAxes, series: series,
  graphic: {elements: graphics}
});
</script></body></html>
